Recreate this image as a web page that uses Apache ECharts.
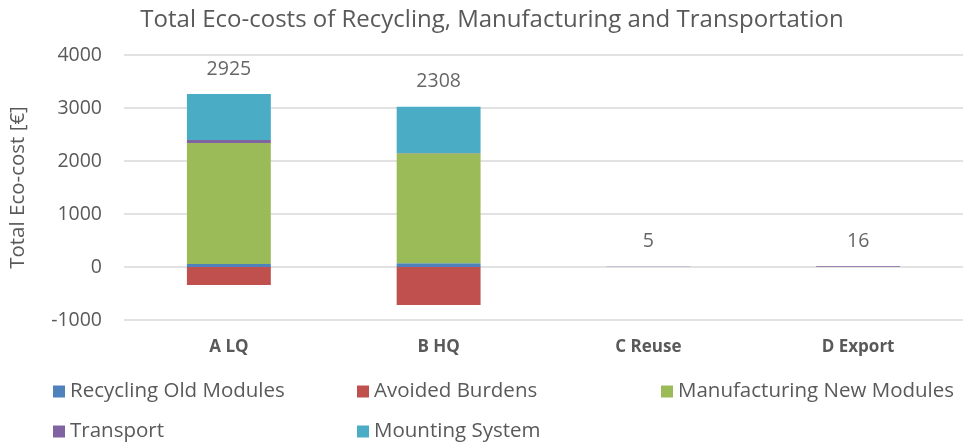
<!DOCTYPE html>
<html>
<head>
<meta charset="utf-8">
<script src="https://cdn.jsdelivr.net/npm/echarts@6/dist/echarts.min.js"></script>
<style>
  html, body { margin: 0; padding: 0; background: #ffffff; }
  #chart { width: 963px; height: 443px; }
</style>
</head>
<body>
<div id="chart"></div>
<script>
// Scenario categories
const categories = ['A LQ', 'B HQ', 'C Reuse', 'D Export'];

// Eco-cost contributions per scenario [€]
const recyclingOld   = [55, 70, 0, 0];
const avoidedBurdens = [-340, -716, 0, 0];
const manufacturing  = [2283, 2077, 0, 0];
const transport      = [57, 3, 5, 16];
const mounting       = [870, 874, 0, 0];

// Net totals shown above each bar
const totals = [2925, 2308, 5, 16];

// Y axis ticks
const yTicks = [-1000, 0, 1000, 2000, 3000, 4000];

const seriesDefs = [
  { name: 'Recycling Old Modules',     data: recyclingOld,   color: '#4F81BD' },
  { name: 'Avoided Burdens',           data: avoidedBurdens, color: '#C0504D' },
  { name: 'Manufacturing New Modules', data: manufacturing,  color: '#9BBB59' },
  { name: 'Transport',                 data: transport,      color: '#8064A2' },
  { name: 'Mounting System',           data: mounting,       color: '#4BACC6' }
];

// Top of the positive part of each stack, used to anchor the total labels
const positiveTop = categories.map((_, i) =>
  seriesDefs.reduce((s, d) => s + Math.max(0, d.data[i]), 0));

const FONT = '"Open Sans", "Noto Sans", sans-serif';

const series = seriesDefs.map(d => ({
  name: d.name,
  type: 'bar',
  stack: 'eco',
  barWidth: '40%',
  data: d.data,
  itemStyle: { color: d.color },
  emphasis: { disabled: true }
}));

series.push({
  name: 'totals',
  type: 'scatter',
  symbolSize: 0,
  silent: true,
  data: positiveTop,
  label: {
    show: true,
    position: 'top',
    distance: 15,
    fontFamily: FONT,
    fontSize: 19.5,
    color: '#404040',
    formatter: p => String(totals[p.dataIndex])
  },
  z: 10
});

// Legend laid out as a 3-column grid: one legend component per entry
const legendCells = [
  { name: 'Recycling Old Modules',     left: 53,  top: 381 },
  { name: 'Avoided Burdens',           left: 357, top: 381 },
  { name: 'Manufacturing New Modules', left: 661, top: 381 },
  { name: 'Transport',                 left: 53,  top: 421 },
  { name: 'Mounting System',           left: 357, top: 421 }
];
const legends = legendCells.map(c => ({
  left: c.left,
  top: c.top,
  padding: 0,
  data: [c.name],
  itemWidth: 12,
  itemHeight: 12,
  itemGap: 0,
  icon: 'rect',
  selectedMode: false,
  textStyle: { fontFamily: FONT, fontSize: 20.5, color: '#595959' }
}));

const chart = echarts.init(document.getElementById('chart'), null, { renderer: 'canvas' });
chart.setOption({
  animation: false,
  backgroundColor: '#ffffff',
  title: {
    text: 'Total Eco-costs of Recycling, Manufacturing and Transportation',
    left: 487,
    top: 3,
    textAlign: 'center',
    textStyle: { fontFamily: FONT, fontSize: 24, fontWeight: 'normal', color: '#595959' }
  },
  legend: legends,
  grid: { left: 122, right: -29, top: 55, bottom: 123, containLabel: false },
  xAxis: {
    type: 'category',
    data: categories,
    axisLine: { show: false, onZero: false },
    axisTick: { show: false },
    axisLabel: {
      margin: 19,
      fontFamily: FONT,
      fontSize: 17,
      fontWeight: 'bold',
      color: '#595959'
    }
  },
  yAxis: {
    type: 'value',
    min: yTicks[0],
    max: yTicks[yTicks.length - 1],
    interval: 1000,
    name: 'Total Eco-cost [€]',
    nameLocation: 'middle',
    nameGap: 95,
    nameTextStyle: { fontFamily: FONT, fontSize: 20.5, color: '#595959' },
    axisLine: { show: false },
    axisTick: { show: false },
    axisLabel: {
      margin: 22,
      fontFamily: FONT,
      fontSize: 19.5,
      color: '#595959',
      formatter: v => String(v)
    },
    splitLine: { lineStyle: { color: '#D9D9D9', width: 1.5 } }
  },
  series: series
});
</script>
</body>
</html>
